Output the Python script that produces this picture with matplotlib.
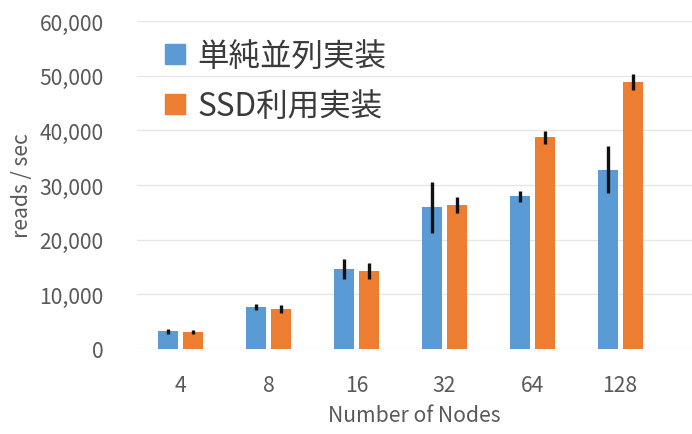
import matplotlib
matplotlib.use("Agg")
import matplotlib.pyplot as plt
import numpy as np
from matplotlib.patches import Patch
from matplotlib.ticker import FuncFormatter

plt.rcParams['font.family'] = ['Noto Sans CJK JP', 'DejaVu Sans']

categories = ["4", "8", "16", "32", "64", "128"]
series_names = ["単純並列実装", "SSD利用実装"]
simple_vals = [3240, 7680, 14630, 25900, 27900, 32800]
simple_err = [450, 580, 1800, 4650, 1000, 4300]
ssd_vals = [3110, 7250, 14200, 26400, 38700, 48800]
ssd_err = [370, 730, 1450, 1450, 1200, 1450]
yticks = [0, 10000, 20000, 30000, 40000, 50000, 60000]

blue = "#5B9BD5"
orange = "#ED7D31"
text_color = "#595959"

AX_L, AX_R, AX_T, AX_B = 137, 692, 22, 350
AW, AH = AX_R - AX_L, AX_B - AX_T

fig = plt.figure(figsize=(6.92, 4.35), dpi=100)
ax = fig.add_axes([AX_L/692, 1 - AX_B/435, AW/692, AH/435])

x = np.arange(len(categories))
off = 12.5 / 88
w = 20 / 88
ax.bar(x - off, simple_vals, w, color=blue, zorder=2)
ax.bar(x + off, ssd_vals, w, color=orange, zorder=2)
ax.errorbar(x - off, simple_vals, yerr=simple_err, fmt='none', ecolor='#111111',
            elinewidth=2.4, capsize=0, zorder=3)
ax.errorbar(x + off, ssd_vals, yerr=ssd_err, fmt='none', ecolor='#111111',
            elinewidth=2.4, capsize=0, zorder=3)

ax.set_ylim(0, 60000)
ax.set_xlim(-0.5, 5.5 + 28/88)
ax.set_yticks(yticks)
ax.yaxis.set_major_formatter(FuncFormatter(lambda v, p: f"{int(v):,}"))
ax.set_xticks(x)
ax.set_xticklabels(categories)
ax.grid(axis='y', color='#e6e6e6', linewidth=1.0, zorder=0)
for s in ax.spines.values():
    s.set_visible(False)
ax.tick_params(axis='both', length=0, labelsize=15.2, colors=text_color)
ax.tick_params(axis='y', pad=24)
ax.tick_params(axis='x', pad=18)
ax.set_xlabel("Number of Nodes", fontsize=15.2, color=text_color, labelpad=6)
ax.set_ylabel("reads / sec", fontsize=15.2, color=text_color)
ax.yaxis.set_label_coords((33 - AX_L) / AW, 0.5)

handles = [Patch(color=blue, label=series_names[0]), Patch(color=orange, label=series_names[1])]
leg = ax.legend(handles=handles, loc='upper left',
                bbox_to_anchor=((165 - AX_L) / AW, 1 - (41 - AX_T) / AH),
                fontsize=22.7, frameon=False, handlelength=0.62, handleheight=0.62,
                handletextpad=0.4, labelspacing=0.58, borderaxespad=0, borderpad=0)
for t in leg.get_texts():
    t.set_color("#3a3a3a")

fig.savefig("out.png", dpi=100)
